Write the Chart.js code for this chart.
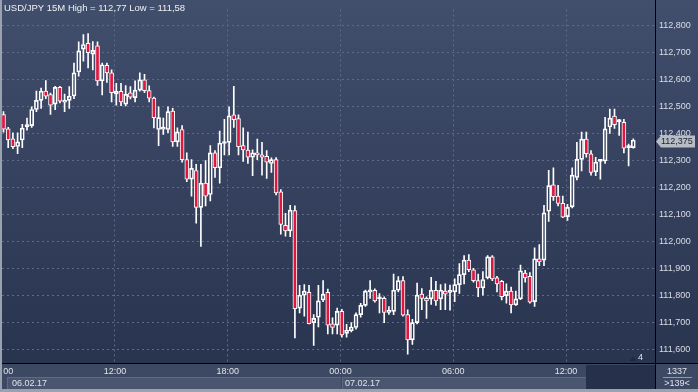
<!DOCTYPE html>
<html><head><meta charset="utf-8">
<style>html,body{margin:0;padding:0;background:#2c3753;overflow:hidden}canvas{display:block}</style>
<script src="https://cdn.jsdelivr.net/npm/chart.js@4/dist/chart.umd.min.js"></script>
</head><body>
<canvas id="c" width="698" height="392"></canvas>
<script>
// USD/JPY 15M candles (06.02.17 06:00 onward)
const opens = [112.471,112.418,112.381,112.353,112.377,112.425,112.430,112.490,112.524,112.558,
112.545,112.510,112.572,112.517,112.524,112.540,112.629,112.714,112.735,112.695,
112.726,112.596,112.654,112.626,112.548,112.557,112.510,112.552,112.534,112.562,
112.600,112.560,112.532,112.416,112.417,112.416,112.484,112.370,112.416,112.304,
112.232,112.264,112.127,112.217,112.175,112.329,112.274,112.364,112.368,112.470,
112.456,112.356,112.340,112.313,112.329,112.322,112.316,112.290,112.304,112.185,
112.061,112.040,112.115,111.754,111.802,111.812,111.700,111.720,111.784,111.812,
111.696,111.691,111.742,111.660,111.670,111.682,111.730,111.764,111.814,111.820,
111.788,111.790,111.738,111.742,111.820,111.856,111.730,111.636,111.700,111.806,
111.790,111.788,111.820,111.788,111.817,111.812,111.814,111.841,111.878,111.932,
111.896,111.856,111.829,111.866,111.944,111.866,111.853,111.800,111.817,111.766,
111.788,111.884,111.872,111.778,111.937,111.932,112.113,112.211,112.169,112.142,
112.093,112.129,112.238,112.305,112.380,112.326,112.259,112.298,112.299,112.425,
112.466,112.445,112.442,112.349,112.349];
const highs = [112.482,112.424,112.404,112.404,112.435,112.458,112.500,112.558,112.569,112.597,
112.551,112.576,112.576,112.547,112.575,112.662,112.741,112.768,112.771,112.742,
112.741,112.662,112.662,112.637,112.587,112.587,112.579,112.575,112.596,112.626,
112.620,112.578,112.536,112.500,112.458,112.500,112.494,112.422,112.430,112.329,
112.304,112.287,112.287,112.301,112.356,112.338,112.410,112.454,112.500,112.576,
112.470,112.422,112.406,112.341,112.380,112.368,112.338,112.311,112.312,112.193,
112.105,112.135,112.133,111.838,111.841,111.838,111.730,111.838,111.856,111.824,
111.718,111.754,111.749,111.694,111.700,111.736,111.772,111.821,111.856,111.825,
111.808,111.796,111.760,111.880,111.871,111.871,111.748,111.712,111.847,111.826,
111.796,111.868,111.853,111.841,111.844,111.839,111.862,111.919,111.949,111.952,
111.901,111.880,111.889,111.949,111.949,111.872,111.857,111.844,111.832,111.817,
111.913,111.894,111.886,111.977,111.989,112.135,112.265,112.274,112.209,112.169,
112.139,112.274,112.368,112.406,112.406,112.338,112.313,112.305,112.461,112.492,
112.492,112.454,112.454,112.362,112.381];
const lows = [112.406,112.349,112.345,112.326,112.349,112.413,112.424,112.482,112.494,112.530,
112.472,112.489,112.514,112.482,112.494,112.530,112.614,112.669,112.644,112.637,
112.579,112.544,112.590,112.518,112.506,112.504,112.503,112.529,112.518,112.558,
112.552,112.518,112.422,112.356,112.398,112.404,112.353,112.353,112.295,112.223,
112.169,112.069,111.983,112.133,112.151,112.238,112.217,112.322,112.322,112.424,
112.322,112.298,112.290,112.245,112.304,112.247,112.235,112.257,112.173,112.028,
112.021,112.019,111.643,111.736,111.724,111.695,111.616,111.684,111.778,111.658,
111.658,111.658,111.646,111.646,111.666,111.676,111.720,111.760,111.790,111.776,
111.736,111.700,111.731,111.730,111.814,111.724,111.583,111.619,111.695,111.748,
111.716,111.768,111.764,111.748,111.748,111.746,111.778,111.808,111.844,111.889,
111.850,111.796,111.802,111.862,111.856,111.814,111.784,111.772,111.736,111.764,
111.785,111.850,111.772,111.760,111.911,111.911,112.075,112.153,112.133,112.089,
112.079,112.125,112.229,112.262,112.313,112.247,112.245,112.232,112.290,112.401,
112.420,112.394,112.329,112.281,112.347];
const closes = [112.417,112.377,112.352,112.370,112.421,112.434,112.490,112.524,112.558,112.539,
112.506,112.572,112.521,112.524,112.539,112.626,112.707,112.731,112.701,112.709,
112.596,112.656,112.626,112.552,112.557,112.518,112.546,112.536,112.562,112.600,
112.560,112.532,112.460,112.460,112.422,112.482,112.370,112.407,112.304,112.232,
112.272,112.127,112.217,112.169,112.329,112.274,112.365,112.366,112.466,112.452,
112.352,112.340,112.313,112.329,112.322,112.313,112.295,112.304,112.181,112.064,
112.040,112.117,111.752,111.802,111.817,111.696,111.716,111.781,111.806,111.691,
111.682,111.742,111.655,111.672,111.684,111.730,111.764,111.817,111.820,111.781,
111.789,111.738,111.746,111.820,111.856,111.728,111.636,111.700,111.802,111.790,
111.781,111.820,111.781,111.820,111.806,111.816,111.841,111.878,111.932,111.896,
111.856,111.829,111.860,111.944,111.862,111.844,111.796,111.817,111.766,111.788,
111.892,111.866,111.776,111.937,111.925,112.107,112.208,112.167,112.142,112.091,
112.127,112.247,112.305,112.380,112.326,112.257,112.295,112.300,112.418,112.458,
112.434,112.446,112.347,112.350,112.376];

const priceTicks = [111.6,111.7,111.8,111.9,112.0,112.1,112.2,112.3,112.4,112.5,112.6,112.7,112.8];
const timeLabels = ['06:00','12:00','18:00','00:00','06:00','12:00'];
const timeTickIdx = [-0.3,23.7,47.7,71.7,95.7,119.7];
const dateLabels = ['06.02.17','07.02.17'];
const headerText = 'USD/JPY 15M High = 112,77 Low = 111,58';
const lastPrice = 112.375;
const infoTop = '1337', infoBottom = '>139<', pageMark = '4';

const FONT = '"Liberation Sans", Arial, sans-serif';
const RED = '#e0163e';
const fmt = v => v.toFixed(3).replace('.', ',');

const idx = opens.map((_, i) => i);
const bodyData = idx.map(i => ({x: i, y: [opens[i], closes[i]]}));
const upWick = idx.map(i => ({x: i, y: [Math.max(opens[i], closes[i]), highs[i]]}));
const dnWick = idx.map(i => ({x: i, y: [lows[i], Math.min(opens[i], closes[i])]}));

const deco = {
  id: 'deco',
  beforeDraw(chart) {
    const {ctx, chartArea: a, width: W, height: H} = chart;
    ctx.save();
    const g = ctx.createLinearGradient(0, 0, 0, a.bottom);
    g.addColorStop(0, '#414e6c');
    g.addColorStop(1, '#29344f');
    ctx.fillStyle = g;
    ctx.fillRect(0, 0, W, a.bottom);
    ctx.fillStyle = '#3d4963';
    ctx.fillRect(0, a.bottom, W, H - a.bottom);
    ctx.restore();
  },
  afterDraw(chart) {
    const {ctx, chartArea: a, width: W, height: H} = chart;
    const xs = chart.scales.x, ys = chart.scales.y;
    ctx.save();
    // separator lines
    ctx.fillStyle = '#000';
    ctx.fillRect(0, a.bottom, W, 1);
    ctx.fillRect(a.right, 0, 1, H);
    // date boxes
    const d0 = 7, d1 = Math.round(xs.getPixelForValue(timeTickIdx[3])) + 1, d2 = 586;
    ctx.fillStyle = '#4a5670';
    ctx.fillRect(d0, 377, d1 - d0, 12);
    ctx.fillRect(d1 + 1, 377, d2 - d1 - 1, 12);
    ctx.strokeStyle = '#5f6b86';
    ctx.lineWidth = 1;
    ctx.beginPath();
    ctx.moveTo(d0 + 0.5, 389); ctx.lineTo(d0 + 0.5, 377.5); ctx.lineTo(d1, 377.5);
    ctx.moveTo(d1 + 1.5, 389); ctx.lineTo(d1 + 1.5, 377.5); ctx.lineTo(d2, 377.5);
    ctx.stroke();
    // dark box
    ctx.fillStyle = '#26304a';
    ctx.fillRect(d2, 365, a.right - d2, 24);
    // frame
    ctx.fillStyle = '#9aa2b0';
    ctx.fillRect(0, 0, 2, H);
    ctx.fillRect(0, 389, W, 3);
    // time labels
    ctx.font = '9px ' + FONT;
    ctx.fillStyle = '#dfe3ea';
    ctx.textBaseline = 'middle';
    ctx.textAlign = 'center';
    ctx.save();
    ctx.beginPath(); ctx.rect(3, a.bottom, a.right - 3, 14); ctx.clip();
    timeLabels.forEach((t, i) => ctx.fillText(t, xs.getPixelForValue(timeTickIdx[i]), 371.5));
    ctx.restore();
    ctx.textAlign = 'left';
    ctx.fillText(dateLabels[0], 12, 383.5);
    ctx.fillText(dateLabels[1], d1 + 4, 383.5);
    // info panel
    ctx.textAlign = 'center';
    ctx.fillText(infoTop, 677, 371.5);
    ctx.fillText(infoBottom, 677, 384);
    ctx.fillStyle = '#8f99ad';
    ctx.fillRect(663, 377, 29, 1);
    // page mark
    ctx.fillStyle = '#1f2840';
    ctx.beginPath(); ctx.moveTo(629, 361); ctx.lineTo(633, 357); ctx.lineTo(637, 361); ctx.closePath(); ctx.fill();
    ctx.fillStyle = '#dfe3ea';
    ctx.textAlign = 'left';
    ctx.fillText(pageMark, 638, 358);
    // header
    ctx.font = '9.5px ' + FONT;
    ctx.fillStyle = '#eef1f5';
    ctx.fillText(headerText, 4, 8.5);
    // price tag
    const py = Math.round(ys.getPixelForValue(lastPrice)) + 0.5;
    ctx.fillStyle = '#b7bcc5';
    ctx.beginPath();
    ctx.moveTo(656, py); ctx.lineTo(661, py - 6); ctx.lineTo(695, py - 6);
    ctx.lineTo(695, py + 6); ctx.lineTo(661, py + 6); ctx.closePath(); ctx.fill();
    ctx.fillStyle = '#1b2132';
    ctx.font = '9px ' + FONT;
    ctx.fillText(fmt(lastPrice), 661, py + 0.5);
    ctx.restore();
  }
};

new Chart(document.getElementById('c'), {
  type: 'bar',
  data: {
    datasets: [
      {data: bodyData, order: 0, barThickness: 4, minBarLength: 2,
       backgroundColor: c => closes[c.dataIndex] < opens[c.dataIndex] ? RED : 'rgba(0,0,0,0)',
       borderColor: '#ffffff', borderWidth: 1, borderSkipped: false},
      {data: upWick, order: 1, barThickness: 1, backgroundColor: '#ffffff', borderWidth: 0},
      {data: dnWick, order: 1, barThickness: 1, backgroundColor: '#ffffff', borderWidth: 0}
    ]
  },
  options: {
    responsive: false,
    animation: false,
    devicePixelRatio: 1,
    layout: {padding: {left: 2, right: 0, top: 0, bottom: 0}},
    datasets: {bar: {grouped: false}},
    plugins: {legend: {display: false}, tooltip: {enabled: false}},
    scales: {
      x: {
        type: 'linear', offset: false, min: -0.319, max: 138.617,
        afterBuildTicks: s => { s.ticks = timeTickIdx.slice(1).map(v => ({value: v})); },
        afterFit: s => { s.height = 29; },
        ticks: {display: false},
        grid: {color: '#5d6b89', lineWidth: 1, drawTicks: false, offset: false},
        border: {display: false, dash: [2, 3]}
      },
      y: {
        position: 'right', min: 111.5505, max: 112.861,
        afterBuildTicks: s => { s.ticks = priceTicks.map(v => ({value: v})); },
        afterFit: s => { s.width = 43; },
        ticks: {color: '#d9dee7', font: {family: FONT, size: 9}, padding: 4,
                callback: v => fmt(v)},
        grid: {color: '#5d6b89', lineWidth: 1, drawTicks: false},
        border: {display: false, dash: [2, 3]}
      }
    }
  },
  plugins: [deco]
});
</script>
</body></html>
